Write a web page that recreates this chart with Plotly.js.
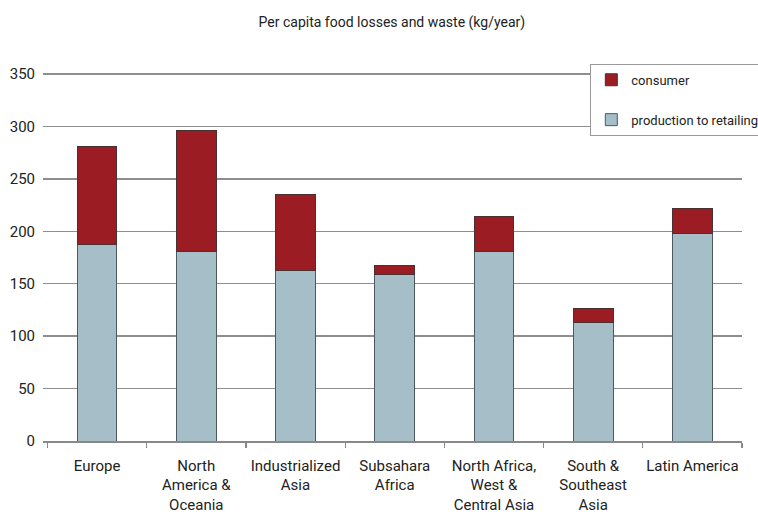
<!DOCTYPE html>
<html>
<head>
<meta charset="utf-8">
<script src="https://cdn.plot.ly/plotly-3.0.1.min.js"></script>
<style>html,body{margin:0;padding:0;background:#fff;}#chart{width:758px;height:525px;}</style>
</head>
<body>
<div id="chart"></div>
<script>
const categories = [
  "Europe",
  "North<br>America &<br>Oceania",
  "Industrialized<br>Asia",
  "Subsahara<br>Africa",
  "North Africa,<br>West &<br>Central Asia",
  "South &<br>Southeast<br>Asia",
  "Latin America"
];
const productionToRetailing = [187, 181, 163, 159, 181, 113, 198];
const consumer = [94, 115, 72, 8, 33, 13, 24];
const yTicks = [0, 50, 100, 150, 200, 250, 300, 350];

const FONT = "Roboto, 'Open Sans', 'DejaVu Sans', sans-serif";

const traces = [
  {
    type: "bar", name: "production to retailing", x: categories, y: productionToRetailing,
    marker: {color: "#a5bec7", line: {color: "#4a5a60", width: 1}},
    legendgroup: "p", legendrank: 2, width: 0.4
  },
  {
    type: "bar", name: "consumer", x: categories, y: consumer,
    marker: {color: "#9b1d23", line: {color: "#4a3030", width: 1}},
    legendgroup: "c", legendrank: 1, width: 0.4
  }
];

const layout = {
  width: 758, height: 525,
  margin: {l: 43, r: 16, t: 73, b: 84, autoexpand: false},
  paper_bgcolor: "#fff", plot_bgcolor: "#fff",
  barmode: "stack",
  font: {family: FONT, color: "#222", size: 13},
  title: {text: "Per capita food losses and waste (kg/year)", x: 0.517, xanchor: "center", y: 0.958, yanchor: "middle",
          font: {family: FONT, size: 14, color: "#222"}},
  xaxis: {
    type: "category", categoryorder: "array", categoryarray: categories,
    range: [-0.545, 6.5],
    showline: true, linecolor: "#888", linewidth: 1.5,
    ticks: "outside", tickson: "boundaries", ticklen: 5, tickcolor: "#888", tickwidth: 1.2,
    tickangle: 0, ticklabelstandoff: 10,
    tickfont: {family: FONT, size: 15, color: "#222"},
    showgrid: false, fixedrange: true
  },
  yaxis: {
    range: [0, 351], tickvals: yTicks, ticktext: yTicks.map(String),
    showgrid: true, gridcolor: "#8e8e8e", gridwidth: 1.5,
    ticks: "", ticklabelstandoff: 7,
    showline: false, zeroline: false,
    tickfont: {family: FONT, size: 15, color: "#222"},
    fixedrange: true
  },
  legend: {
    x: 0.783, xanchor: "left", y: 1.025, yanchor: "top",
    bgcolor: "#fff", bordercolor: "#999", borderwidth: 1,
    traceorder: "grouped", tracegroupgap: 20,
    font: {family: FONT, size: 13, color: "#222"}
  },
  showlegend: true
};

Plotly.newPlot("chart", traces, layout, {displayModeBar: false, staticPlot: true});
</script>
</body>
</html>
